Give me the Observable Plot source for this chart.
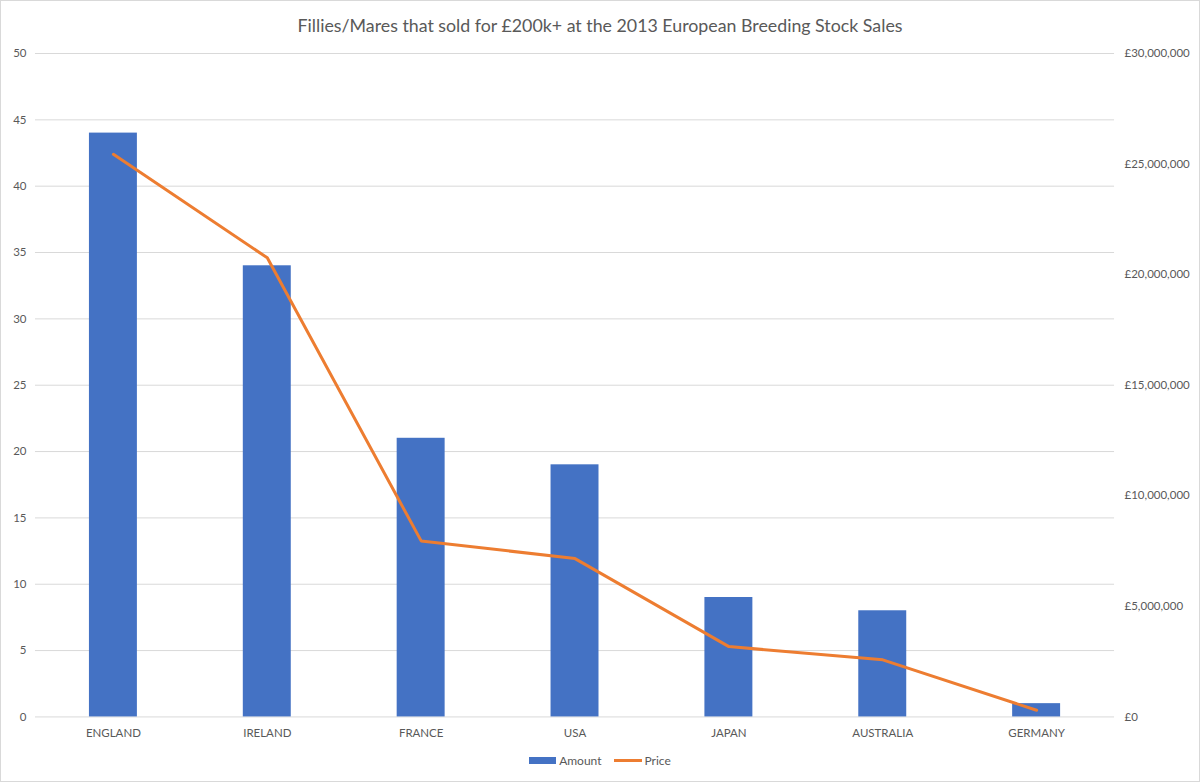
<!DOCTYPE html>
<html>
<head>
<meta charset="utf-8">
<script src="https://cdn.jsdelivr.net/npm/d3@7"></script>
<script src="https://cdn.jsdelivr.net/npm/@observablehq/plot@0.6"></script>
<style>
  html, body { margin: 0; padding: 0; background: #fff; }
  #wrap { position: relative; width: 1200px; height: 782px; box-sizing: border-box; border: 1px solid #d9d9d9; font-family: Lato, "Open Sans", sans-serif; color: #595959; overflow: hidden; }
  #title { position: absolute; top: 13px; left: 0; width: 100%; text-align: center; font-size: 17.8px; color: #595959; }
  #chart { position: absolute; top: 39px; left: -1px; }
  #legend { position: absolute; top: 752px; left: 0; width: 100%; display: flex; justify-content: center; align-items: center; font-size: 12px; color: #595959; gap: 0; }
  .sw-bar { display: inline-block; width: 27px; height: 7px; background: #4472C4; margin-right: 3px; }
  .sw-line { display: inline-block; width: 28px; height: 3px; background: #ED7D31; margin-right: 3px; margin-left: 12px; }
  svg text { font-family: Lato, "Open Sans", sans-serif; }
</style>
</head>
<body>
<div id="wrap">
  <div id="title">Fillies/Mares that sold for £200k+ at the 2013 European Breeding Stock Sales</div>
  <div id="chart"></div>
  <div id="legend"><span class="sw-bar"></span><span>Amount</span><span class="sw-line"></span><span>Price</span></div>
</div>
<script>
const countries = ["ENGLAND", "IRELAND", "FRANCE", "USA", "JAPAN", "AUSTRALIA", "GERMANY"];
const amounts = [44, 34, 21, 19, 9, 8, 1];
const prices = [25440000, 20760000, 7960000, 7160000, 3180000, 2580000, 300000];
const leftTicks = [0, 5, 10, 15, 20, 25, 30, 35, 40, 45, 50];
const rightTicks = [0, 5000000, 10000000, 15000000, 20000000, 25000000, 30000000];

const leftMax = 50;
const rightMax = 30000000;
const toLeft = p => p / rightMax * leftMax;

const data = countries.map((c, i) => ({country: c, amount: amounts[i], price: prices[i], priceScaled: toLeft(prices[i])}));

const fmtMoney = v => "£" + d3.format(",")(Math.round(v));

const chart = Plot.plot({
  width: 1200,
  height: 713,
  marginTop: 13,
  marginBottom: 36,
  marginLeft: 35,
  marginRight: 85,
  style: {fontSize: "11.5px", color: "#595959", background: "transparent"},
  x: {domain: countries, paddingInner: 0.69, paddingOuter: 0.345, label: null},
  y: {domain: [0, leftMax], label: null},
  marks: [
    Plot.gridY(leftTicks, {stroke: "#d9d9d9", strokeOpacity: 1, strokeWidth: 1}),
    Plot.barY(data, {x: "country", y: "amount", fill: "#4472C4"}),
    Plot.line(data, {x: "country", y: "priceScaled", stroke: "#ED7D31", strokeWidth: 3, strokeLinejoin: "round"}),
    Plot.axisY(leftTicks, {anchor: "left", tickSize: 0, tickPadding: 9, label: null, fill: "#595959"}),
    Plot.axisY(rightTicks.map(toLeft), {anchor: "right", tickSize: 0, tickPadding: 10, label: null, textAnchor: "start", tickFormat: d => fmtMoney(d * rightMax / leftMax), fill: "#595959"}),
    Plot.axisX({tickSize: 0, tickPadding: 12, label: null, fill: "#595959"})
  ]
});
document.getElementById("chart").appendChild(chart);
</script>
</body>
</html>
